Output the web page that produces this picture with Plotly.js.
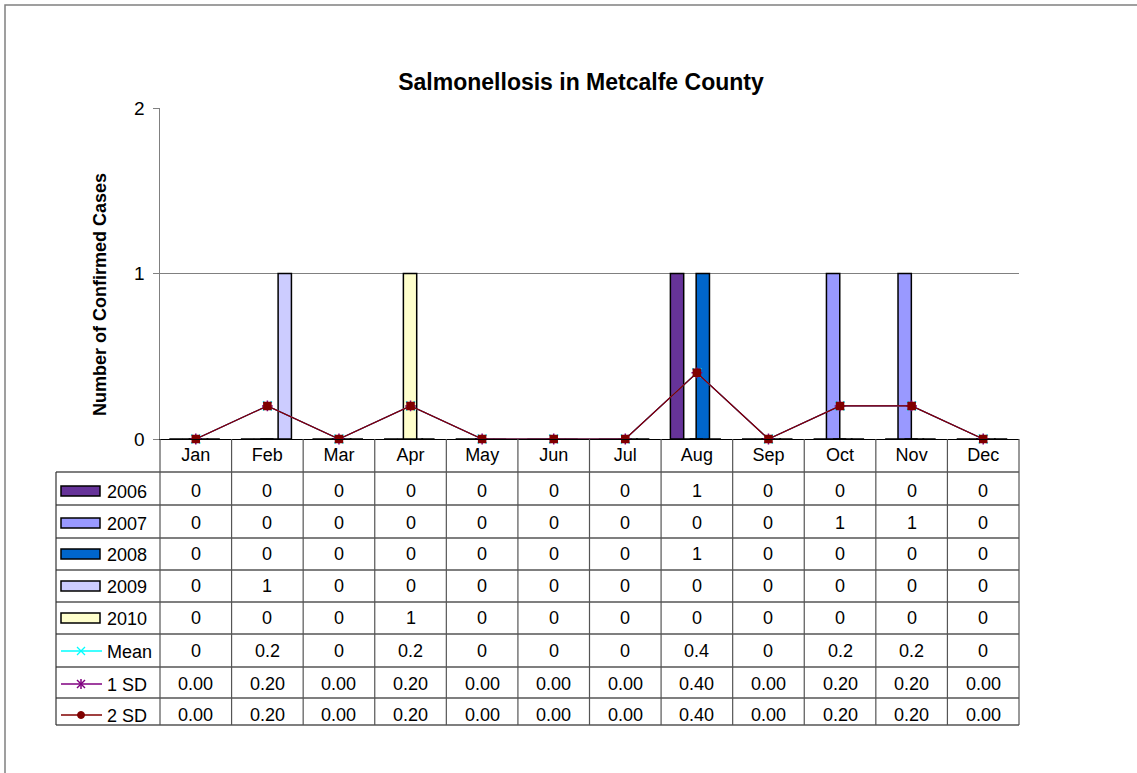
<!DOCTYPE html>
<html>
<head>
<meta charset="utf-8">
<script src="https://cdn.plot.ly/plotly-3.0.1.min.js"></script>
<style>
  html, body { margin: 0; padding: 0; background: #fff; }
  #chart { width: 1137px; height: 773px; }
</style>
</head>
<body>
<div id="chart"></div>
<script>
// data
var months = ['Jan', 'Feb', 'Mar', 'Apr', 'May', 'Jun', 'Jul', 'Aug', 'Sep', 'Oct', 'Nov', 'Dec'];
var y2006 = [0, 0, 0, 0, 0, 0, 0, 1, 0, 0, 0, 0];
var y2007 = [0, 0, 0, 0, 0, 0, 0, 0, 0, 1, 1, 0];
var y2008 = [0, 0, 0, 0, 0, 0, 0, 1, 0, 0, 0, 0];
var y2009 = [0, 1, 0, 0, 0, 0, 0, 0, 0, 0, 0, 0];
var y2010 = [0, 0, 0, 1, 0, 0, 0, 0, 0, 0, 0, 0];
var meanVals = [0, 0.2, 0, 0.2, 0, 0, 0, 0.4, 0, 0.2, 0.2, 0];
var sd1Vals = [0, 0.2, 0, 0.2, 0, 0, 0, 0.4, 0, 0.2, 0.2, 0];
var sd2Vals = [0, 0.2, 0, 0.2, 0, 0, 0, 0.4, 0, 0.2, 0.2, 0];

// plot area in pixels
var L = 160, R = 1019, T = 108, B = 439;
function px(x) { return (x - L) / (R - L); }
function py(y) { return (B - y) / (B - T); }
var colW = (R - L) / 12;

var FONT = 'Liberation Sans, Arial, sans-serif';

var barSeries = [
    {name: '2006', y: y2006, color: '#663399', offset: -0.37},
    {name: '2007', y: y2007, color: '#9999FF', offset: -0.19},
    {name: '2008', y: y2008, color: '#0066CC', offset: -0.01},
    {name: '2009', y: y2009, color: '#CCCCFF', offset: 0.15},
    {name: '2010', y: y2010, color: '#FFFFCC', offset: -0.10}
];
var lineSeries = [
    {name: 'Mean', y: meanVals, color: '#00FFFF', symbol: 'x-thin-open', size: 9, fmt: function(v) { return String(v); }},
    {name: '1 SD', y: sd1Vals, color: '#800080', symbol: 'asterisk-open', size: 9, fmt: function(v) { return v.toFixed(2); }},
    {name: '2 SD', y: sd2Vals, color: '#800000', symbol: 'square', size: 7, fmt: function(v) { return v.toFixed(2); }}
];

var traces = [];
barSeries.forEach(function(s) {
    traces.push({
        type: 'bar', name: s.name, x: months, y: s.y,
        offset: s.offset, width: 0.186,
        marker: {color: s.color, line: {color: '#000', width: 1.5}}
    });
});
lineSeries.forEach(function(s) {
    traces.push({
        type: 'scatter', mode: 'lines+markers', name: s.name, x: months, y: s.y,
        line: {color: s.color, width: 1.2},
        marker: {symbol: s.symbol, color: s.color, size: s.size, line: {color: s.color, width: 1.5}},
        cliponaxis: false
    });
});

// data table below the plot
var shapes = [], annotations = [];
var rowTops = [472, 505, 538, 570, 602, 634, 667, 698, 725];

function seg(x0, y0, x1, y1, color, w) {
    shapes.push({type: 'line', xref: 'paper', yref: 'paper', x0: px(x0), x1: px(x1), y0: py(y0), y1: py(y1),
        line: {color: color, width: w}});
}

// outer chart border
shapes.push({type: 'rect', xref: 'paper', yref: 'paper', x0: px(5), x1: px(1150), y0: py(5), y1: py(790),
    line: {color: '#808080', width: 1.5}});

// horizontal rules
rowTops.forEach(function(y) { seg(56, y, R, y, '#000', 1.2); });
// vertical rules
seg(56, 472, 56, 725, '#333', 1.2);
for (var k = 0; k <= 12; k++) {
    var xv = L + k * colW;
    seg(xv, B, xv, 725, '#555', 1.2);
}

function cellText(text, x, y, anchor) {
    annotations.push({xref: 'paper', yref: 'paper', x: px(x), y: py(y), text: text, showarrow: false,
        xanchor: anchor || 'center', yanchor: 'middle', font: {family: FONT, size: 18, color: '#000'}});
}

var rowCenters = [491, 523, 554, 586, 618, 651, 684, 715];

barSeries.forEach(function(s, r) {
    var yc = rowCenters[r];
    shapes.push({type: 'rect', xref: 'paper', yref: 'paper', x0: px(61), x1: px(100), y0: py(yc - 5), y1: py(yc + 5),
        fillcolor: s.color, line: {color: '#000', width: 1.5}});
    cellText(s.name, 105, yc + 1, 'left');
    s.y.forEach(function(v, i) { cellText(String(v), L + (i + 0.5) * colW, yc); });
});

lineSeries.forEach(function(s, j) {
    var yc = rowCenters[5 + j];
    seg(61, yc, 102, yc, s.color, 1.5);
    // key marker
    if (j === 0) {
        seg(77, yc - 4, 85, yc + 4, s.color, 1.2);
        seg(77, yc + 4, 85, yc - 4, s.color, 1.2);
    } else if (j === 1) {
        seg(77, yc - 4, 85, yc + 4, s.color, 1.5);
        seg(77, yc + 4, 85, yc - 4, s.color, 1.5);
        seg(81, yc - 5, 81, yc + 5, s.color, 1.5);
    } else {
        shapes.push({type: 'circle', xref: 'paper', yref: 'paper', x0: px(77.5), x1: px(84.5), y0: py(yc - 3.5), y1: py(yc + 3.5),
            fillcolor: s.color, line: {color: s.color, width: 1}});
    }
    cellText(s.name, 105, yc + 1, 'left');
    s.y.forEach(function(v, i) { cellText(s.fmt(v), L + (i + 0.5) * colW, yc); });
});

// y axis title, placed like the original (below the axis middle)
annotations.push({xref: 'paper', yref: 'paper', x: px(100), y: py(295), text: '<b>Number of Confirmed Cases</b>',
    textangle: -90, showarrow: false, xanchor: 'center', yanchor: 'middle',
    font: {family: FONT, size: 18, color: '#000'}});

var layout = {
    width: 1137, height: 773,
    margin: {l: L, r: 1137 - R, t: T, b: 773 - B, pad: 0},
    paper_bgcolor: '#fff', plot_bgcolor: '#fff',
    showlegend: false,
    barmode: 'overlay',
    font: {family: FONT, size: 18, color: '#000'},
    title: {
        text: '<b>Salmonellosis in Metcalfe County</b>',
        font: {family: FONT, size: 23, color: '#000'},
        xref: 'paper', x: px(581), xanchor: 'center',
        yref: 'container', y: 1 - 82 / 773, yanchor: 'middle'
    },
    xaxis: {
        type: 'category', range: [-0.5, 11.5],
        showline: true, linecolor: '#000', linewidth: 1.2,
        ticks: '', showgrid: false, zeroline: false,
        tickfont: {family: FONT, size: 18, color: '#000'},
        ticklabelstandoff: -1
    },
    yaxis: {
        range: [0, 2], tickvals: [0, 1, 2],
        showline: true, linecolor: '#808080', linewidth: 1.5,
        ticks: 'outside', ticklen: 6, tickcolor: '#808080',
        showgrid: true, gridcolor: '#808080', gridwidth: 1, zeroline: false,
        tickfont: {family: FONT, size: 19, color: '#000'},
        ticklabelstandoff: 4
    },
    shapes: shapes,
    annotations: annotations
};

Plotly.newPlot('chart', traces, layout, {displayModeBar: false, staticPlot: true});
</script>
</body>
</html>
